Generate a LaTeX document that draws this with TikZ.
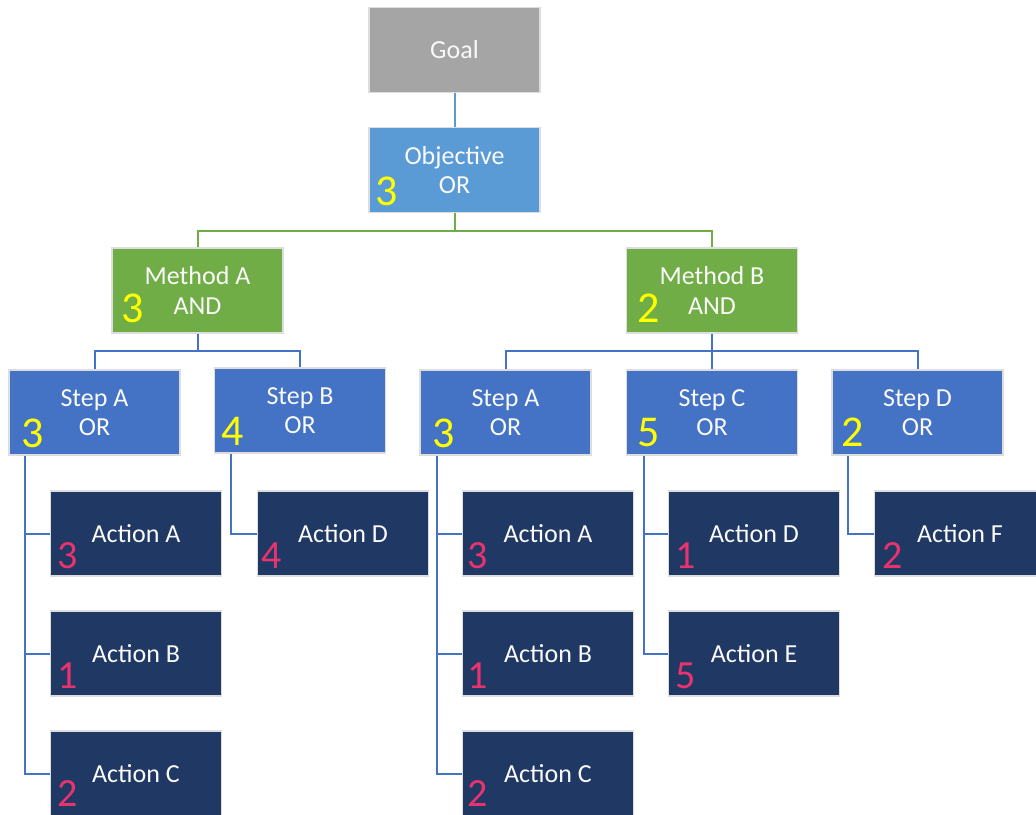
\documentclass[tikz,border=0pt]{standalone}
\usepackage{fontspec}
\setmainfont{Carlito}
\definecolor{goalgray}{HTML}{A5A5A5}
\definecolor{objblue}{HTML}{5B9BD5}
\definecolor{methgreen}{HTML}{70AD47}
\definecolor{stepblue}{HTML}{4472C4}
\definecolor{actnavy}{HTML}{203864}
\definecolor{numyellow}{HTML}{FFFF00}
\definecolor{numpink}{HTML}{E8336E}
\definecolor{edgegray}{HTML}{DDDDDD}
\tikzset{
  box/.style={rectangle, draw=edgegray, line width=1.5pt, minimum width=171pt,
    minimum height=85pt, inner sep=0pt, align=center, text=white!96!gray,
    font=\fontsize{26}{29.5}\selectfont},
  goalbox/.style={box, fill=goalgray, text=white!95!gray},
  objbox/.style={box, fill=objblue},
  methbox/.style={box, fill=methgreen},
  stepbox/.style={box, fill=stepblue},
  actbox/.style={box, fill=actnavy},
  ynum/.style={anchor=base west, inner sep=0pt, text=numyellow, font=\fontsize{44}{44}\selectfont},
  pnum/.style={anchor=base west, inner sep=0pt, text=numpink, font=\fontsize{40}{40}\selectfont},
  link/.style={line width=2pt},
}
\begin{document}
\begin{tikzpicture}[x=1pt, y=-1pt]
\useasboundingbox (0,0) rectangle (1036,814);
\clip (0,0) rectangle (1036,814);

% top levels
\node[goalbox] (goal) at (454.5,50) {Goal};
\node[objbox] (obj) at (454.5,170) {Objective\\OR};
\node[methbox] (ma) at (197.5,290.5) {Method A\\AND};
\node[methbox] (mb) at (712,290.5) {Method B\\AND};

% steps
\node[stepbox] (sal) at (94.5,412.5) {Step A\\OR};
\node[stepbox] (sb)  at (300,410.5) {Step B\\OR};
\node[stepbox] (sar) at (505.5,412.5) {Step A\\OR};
\node[stepbox] (sc)  at (712,412.5) {Step C\\OR};
\node[stepbox] (sd)  at (917.5,412.5) {Step D\\OR};

% actions
\node[actbox] (aal) at (136,533.5) {Action A};
\node[actbox] (abl) at (136,653.5) {Action B};
\node[actbox] (acl) at (136,773.5) {Action C};
\node[actbox] (adl) at (343,533.5) {Action D};
\node[actbox] (aar) at (548,533.5) {Action A};
\node[actbox] (abr) at (548,653.5) {Action B};
\node[actbox] (acr) at (548,773.5) {Action C};
\node[actbox] (adr) at (754,533.5) {Action D};
\node[actbox] (aer) at (754,653.5) {Action E};
\node[actbox] (afr) at (960,533.5) {Action F};

% connectors
\draw[link, objblue] (goal.south) -- (obj.north);
\coordinate (gbar) at ([yshift=-18pt]obj.south);
\draw[link, methgreen] (obj.south) -- (gbar);
\draw[link, methgreen] (ma.north) |- (gbar) -| (mb.north);
\coordinate (abar) at ([yshift=-17pt]ma.south);
\coordinate (bbar) at ([yshift=-17pt]mb.south);
\draw[link, stepblue] (ma.south) -- (abar);
\draw[link, stepblue] (sal.north) |- (abar) -| (sb.north);
\draw[link, stepblue] (mb.south) -- (sc.north);
\draw[link, stepblue] (sar.north) |- (bbar) -| (sd.north);
\draw[link, stepblue] ([xshift=17pt]sal.south west) |- (acl.west);
\draw[link, stepblue] ([xshift=17pt]sal.south west) |- (aal.west);
\draw[link, stepblue] ([xshift=17pt]sal.south west) |- (abl.west);
\draw[link, stepblue] ([xshift=17pt]sb.south west) |- (adl.west);
\draw[link, stepblue] ([xshift=18pt]sar.south west) |- (acr.west);
\draw[link, stepblue] ([xshift=18pt]sar.south west) |- (aar.west);
\draw[link, stepblue] ([xshift=18pt]sar.south west) |- (abr.west);
\draw[link, stepblue] ([xshift=18pt]sc.south west) |- (aer.west);
\draw[link, stepblue] ([xshift=18pt]sc.south west) |- (adr.west);
\draw[link, stepblue] ([xshift=17pt]sd.south west) |- (afr.west);

% scores
\node[ynum] (nobj) at ([xshift=7pt,yshift=8pt]obj.south west) {3};
\node[ynum] (nma)  at ([xshift=10pt,yshift=11pt]ma.south west) {3};
\node[ynum] (nmb)  at ([xshift=12pt,yshift=11pt]mb.south west) {2};
\node[ynum] (nsal) at ([xshift=13pt,yshift=8pt]sal.south west) {3};
\node[ynum] (nsb)  at ([xshift=8pt,yshift=8pt]sb.south west) {4};
\node[ynum] (nsar) at ([xshift=13pt,yshift=8pt]sar.south west) {3};
\node[ynum] (nsc)  at ([xshift=12pt,yshift=9pt]sc.south west) {5};
\node[ynum] (nsd)  at ([xshift=10pt,yshift=9pt]sd.south west) {2};

\node[pnum] (naal) at ([xshift=8pt,yshift=8pt]aal.south west) {3};
\node[pnum] (nabl) at ([xshift=8pt,yshift=8pt]abl.south west) {1};
\node[pnum] (nacl) at ([xshift=8pt,yshift=10pt]acl.south west) {2};
\node[pnum] (nadl) at ([xshift=5pt,yshift=8pt]adl.south west) {4};
\node[pnum] (naar) at ([xshift=6pt,yshift=8pt]aar.south west) {3};
\node[pnum] (nabr) at ([xshift=6pt,yshift=8pt]abr.south west) {1};
\node[pnum] (nacr) at ([xshift=6pt,yshift=10pt]acr.south west) {2};
\node[pnum] (nadr) at ([xshift=8pt,yshift=8pt]adr.south west) {1};
\node[pnum] (naer) at ([xshift=8pt,yshift=8pt]aer.south west) {5};
\node[pnum] (nafr) at ([xshift=9pt,yshift=8pt]afr.south west) {2};
\end{tikzpicture}
\end{document}
